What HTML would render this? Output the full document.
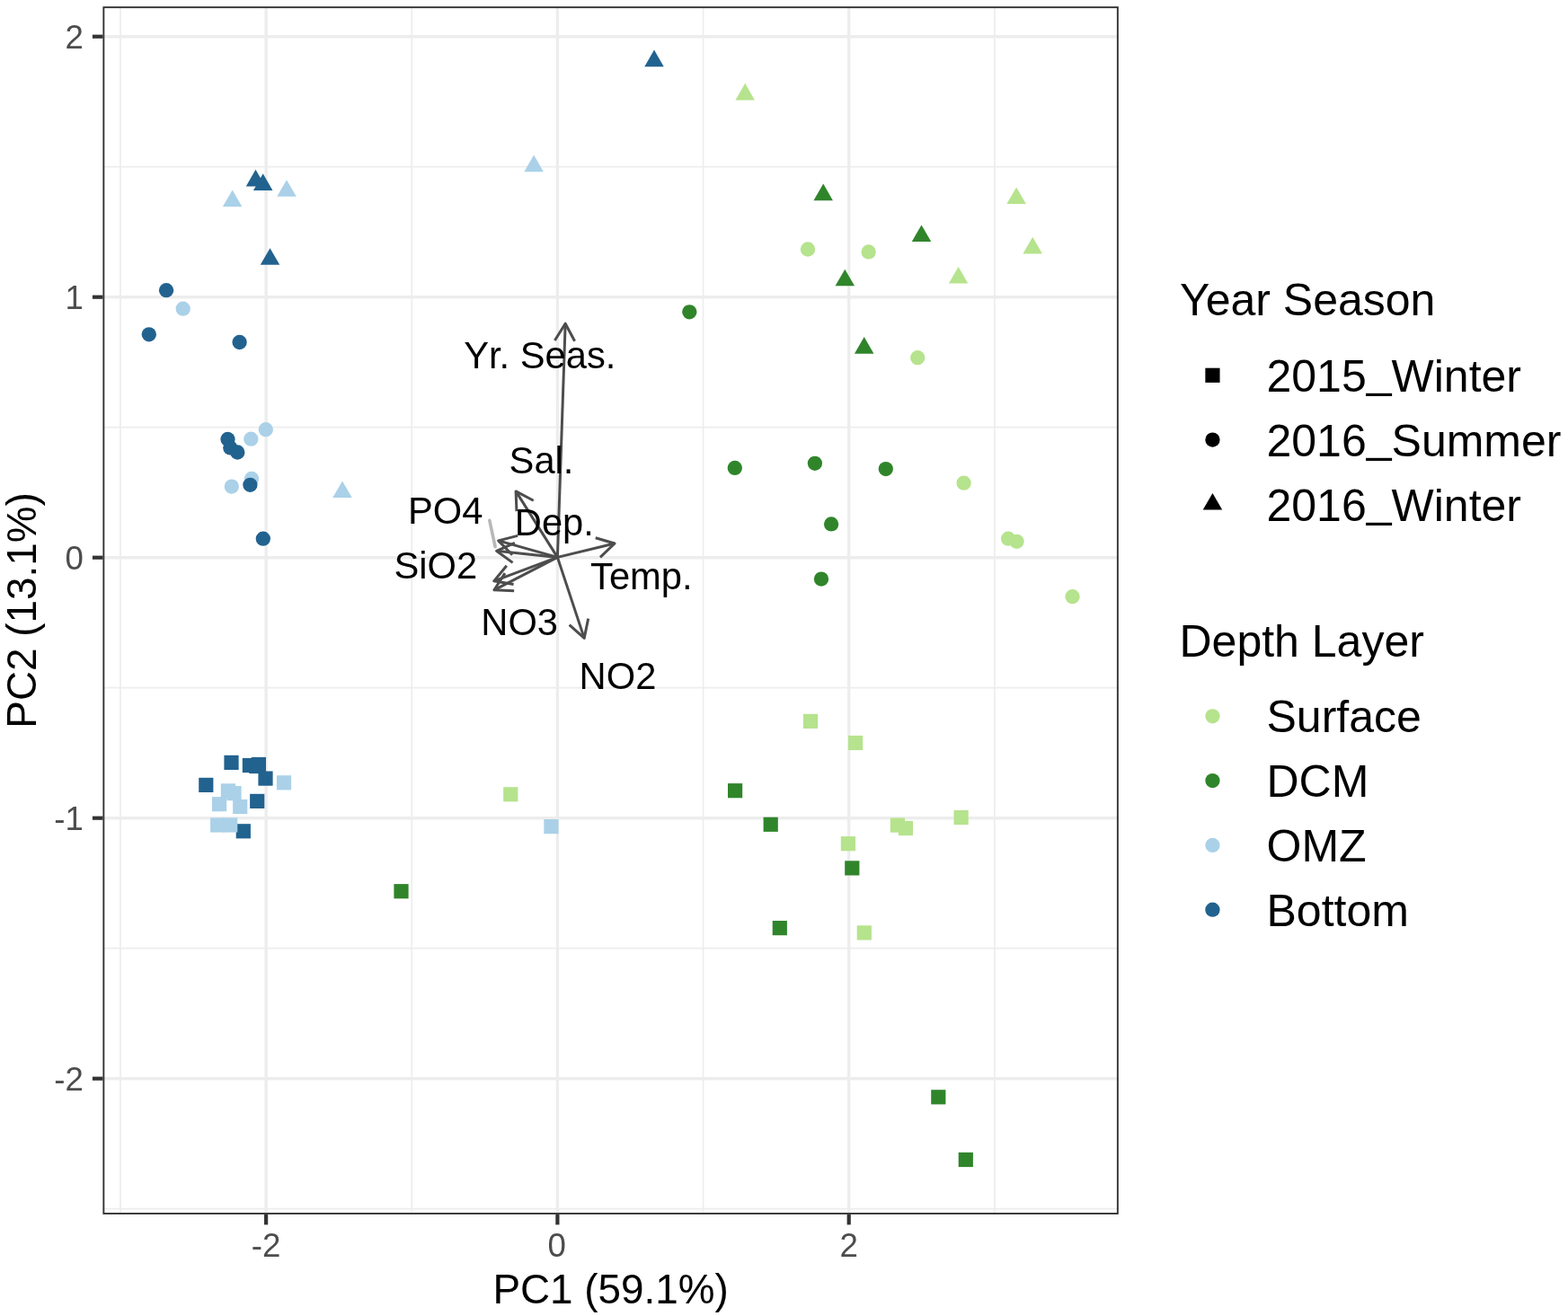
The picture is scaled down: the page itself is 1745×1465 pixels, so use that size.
<!DOCTYPE html>
<html><head><meta charset="utf-8"><title>PCA biplot</title><style>html,body{margin:0;padding:0;background:#fff;overflow:hidden}svg{display:block}</style></head><body>
<svg width="1745" height="1465" viewBox="0 0 1745 1465"><rect x="0" y="0" width="1745" height="1465" fill="#FFFFFF"/>
<g><line x1="133.95" y1="7.2" x2="133.95" y2="1351.9" stroke="#EDEDED" stroke-width="1.7"/><line x1="458.25" y1="7.2" x2="458.25" y2="1351.9" stroke="#EDEDED" stroke-width="1.7"/><line x1="782.55" y1="7.2" x2="782.55" y2="1351.9" stroke="#EDEDED" stroke-width="1.7"/><line x1="1106.85" y1="7.2" x2="1106.85" y2="1351.9" stroke="#EDEDED" stroke-width="1.7"/><line x1="114.4" y1="185.70" x2="1244.8" y2="185.70" stroke="#EDEDED" stroke-width="1.7"/><line x1="114.4" y1="475.70" x2="1244.8" y2="475.70" stroke="#EDEDED" stroke-width="1.7"/><line x1="114.4" y1="765.70" x2="1244.8" y2="765.70" stroke="#EDEDED" stroke-width="1.7"/><line x1="114.4" y1="1055.70" x2="1244.8" y2="1055.70" stroke="#EDEDED" stroke-width="1.7"/><line x1="114.4" y1="1345.70" x2="1244.8" y2="1345.70" stroke="#EDEDED" stroke-width="1.7"/><line x1="296.10" y1="7.2" x2="296.10" y2="1351.9" stroke="#EDEDED" stroke-width="3.4"/><line x1="620.40" y1="7.2" x2="620.40" y2="1351.9" stroke="#EDEDED" stroke-width="3.4"/><line x1="944.70" y1="7.2" x2="944.70" y2="1351.9" stroke="#EDEDED" stroke-width="3.4"/><line x1="114.4" y1="40.70" x2="1244.8" y2="40.70" stroke="#EDEDED" stroke-width="3.4"/><line x1="114.4" y1="330.70" x2="1244.8" y2="330.70" stroke="#EDEDED" stroke-width="3.4"/><line x1="114.4" y1="620.70" x2="1244.8" y2="620.70" stroke="#EDEDED" stroke-width="3.4"/><line x1="114.4" y1="910.70" x2="1244.8" y2="910.70" stroke="#EDEDED" stroke-width="3.4"/><line x1="114.4" y1="1200.70" x2="1244.8" y2="1200.70" stroke="#EDEDED" stroke-width="3.4"/></g>
<g><polygon points="284.50,188.80 295.24,207.40 273.76,207.40" fill="#22628F"/><polygon points="292.70,193.30 303.44,211.90 281.96,211.90" fill="#22628F"/><polygon points="258.60,211.50 269.34,230.10 247.86,230.10" fill="#AAD1E8"/><polygon points="319.00,200.20 329.74,218.80 308.26,218.80" fill="#AAD1E8"/><polygon points="300.50,276.20 311.24,294.80 289.76,294.80" fill="#22628F"/><circle cx="185.05" cy="323.20" r="8.15" fill="#22628F"/><circle cx="203.70" cy="343.70" r="8.15" fill="#AAD1E8"/><circle cx="165.80" cy="372.30" r="8.15" fill="#22628F"/><circle cx="266.60" cy="381.00" r="8.15" fill="#22628F"/><circle cx="295.80" cy="478.20" r="8.15" fill="#AAD1E8"/><circle cx="279.30" cy="488.70" r="8.15" fill="#AAD1E8"/><circle cx="253.50" cy="489.00" r="8.15" fill="#22628F"/><circle cx="256.30" cy="498.40" r="8.15" fill="#22628F"/><circle cx="264.30" cy="503.50" r="8.15" fill="#22628F"/><circle cx="280.00" cy="533.00" r="8.15" fill="#AAD1E8"/><circle cx="278.40" cy="539.80" r="8.15" fill="#22628F"/><circle cx="257.80" cy="541.60" r="8.15" fill="#AAD1E8"/><polygon points="381.00,535.40 391.74,554.00 370.26,554.00" fill="#AAD1E8"/><circle cx="292.80" cy="599.70" r="8.15" fill="#22628F"/><polygon points="728.00,55.60 738.74,74.20 717.26,74.20" fill="#22628F"/><polygon points="829.20,92.80 839.94,111.40 818.46,111.40" fill="#B6E38D"/><polygon points="594.10,172.60 604.84,191.20 583.36,191.20" fill="#AAD1E8"/><polygon points="916.20,204.60 926.94,223.20 905.46,223.20" fill="#30852B"/><polygon points="1131.10,208.50 1141.84,227.10 1120.36,227.10" fill="#B6E38D"/><polygon points="1025.50,250.40 1036.24,269.00 1014.76,269.00" fill="#30852B"/><polygon points="1149.20,263.80 1159.94,282.40 1138.46,282.40" fill="#B6E38D"/><circle cx="899.00" cy="277.50" r="8.15" fill="#B6E38D"/><circle cx="966.60" cy="280.40" r="8.15" fill="#B6E38D"/><polygon points="940.30,299.70 951.04,318.30 929.56,318.30" fill="#30852B"/><polygon points="1066.60,297.00 1077.34,315.60 1055.86,315.60" fill="#B6E38D"/><polygon points="961.70,375.10 972.44,393.70 950.96,393.70" fill="#30852B"/><circle cx="1021.20" cy="398.20" r="8.15" fill="#B6E38D"/><circle cx="767.30" cy="347.30" r="8.15" fill="#30852B"/><circle cx="817.80" cy="520.90" r="8.15" fill="#30852B"/><circle cx="906.90" cy="515.80" r="8.15" fill="#30852B"/><circle cx="985.80" cy="522.10" r="8.15" fill="#30852B"/><circle cx="925.10" cy="583.40" r="8.15" fill="#30852B"/><circle cx="914.00" cy="644.60" r="8.15" fill="#30852B"/><circle cx="1072.60" cy="537.70" r="8.15" fill="#B6E38D"/><circle cx="1122.10" cy="599.70" r="8.15" fill="#B6E38D"/><circle cx="1131.50" cy="602.80" r="8.15" fill="#B6E38D"/><circle cx="1193.50" cy="664.20" r="8.15" fill="#B6E38D"/><rect x="893.90" y="794.80" width="16.20" height="16.20" fill="#B6E38D"/><rect x="944.00" y="818.90" width="16.20" height="16.20" fill="#B6E38D"/><rect x="810.00" y="872.10" width="16.20" height="16.20" fill="#30852B"/><rect x="849.60" y="909.70" width="16.20" height="16.20" fill="#30852B"/><rect x="990.80" y="910.50" width="16.20" height="16.20" fill="#B6E38D"/><rect x="999.80" y="913.90" width="16.20" height="16.20" fill="#B6E38D"/><rect x="1061.50" y="901.90" width="16.20" height="16.20" fill="#B6E38D"/><rect x="935.80" y="931.10" width="16.20" height="16.20" fill="#B6E38D"/><rect x="940.20" y="958.30" width="16.20" height="16.20" fill="#30852B"/><rect x="859.70" y="1025.00" width="16.20" height="16.20" fill="#30852B"/><rect x="953.70" y="1030.30" width="16.20" height="16.20" fill="#B6E38D"/><rect x="1036.20" y="1213.20" width="16.20" height="16.20" fill="#30852B"/><rect x="1066.70" y="1282.90" width="16.20" height="16.20" fill="#30852B"/><rect x="262.70" y="917.20" width="16.20" height="16.20" fill="#22628F"/><rect x="249.40" y="840.80" width="16.20" height="16.20" fill="#22628F"/><rect x="269.80" y="843.90" width="16.20" height="16.20" fill="#22628F"/><rect x="277.20" y="844.90" width="16.20" height="16.20" fill="#22628F"/><rect x="279.80" y="842.90" width="16.20" height="16.20" fill="#22628F"/><rect x="287.40" y="858.50" width="16.20" height="16.20" fill="#22628F"/><rect x="307.90" y="863.20" width="16.20" height="16.20" fill="#AAD1E8"/><rect x="221.20" y="865.80" width="16.20" height="16.20" fill="#22628F"/><rect x="245.80" y="872.30" width="16.20" height="16.20" fill="#AAD1E8"/><rect x="252.40" y="875.00" width="16.20" height="16.20" fill="#AAD1E8"/><rect x="236.00" y="887.10" width="16.20" height="16.20" fill="#AAD1E8"/><rect x="259.10" y="889.90" width="16.20" height="16.20" fill="#AAD1E8"/><rect x="278.10" y="883.80" width="16.20" height="16.20" fill="#22628F"/><rect x="234.10" y="910.40" width="16.20" height="16.20" fill="#AAD1E8"/><rect x="248.10" y="910.40" width="16.20" height="16.20" fill="#AAD1E8"/><rect x="560.20" y="876.20" width="16.20" height="16.20" fill="#B6E38D"/><rect x="605.30" y="912.00" width="16.20" height="16.20" fill="#AAD1E8"/><rect x="438.40" y="984.10" width="16.20" height="16.20" fill="#30852B"/></g>
<line x1="544.8" y1="579.3" x2="551.1" y2="608.7" stroke="#B8B8B8" stroke-width="3.6" stroke-linecap="round"/>
<g stroke="#4D4D4D" stroke-width="3.0" stroke-linecap="butt" stroke-linejoin="round" fill="none"><line x1="620.40" y1="620.40" x2="629.16" y2="360.20"/>
<polyline points="617.42,379.04 629.16,360.20 639.60,379.79" fill="none"/><line x1="620.40" y1="620.40" x2="574.09" y2="546.90"/>
<polyline points="574.95,569.08 574.09,546.90 593.73,557.25" fill="none"/><line x1="620.40" y1="620.40" x2="554.65" y2="601.85"/>
<polyline points="570.14,617.76 554.65,601.85 576.17,596.39" fill="none"/><line x1="620.40" y1="620.40" x2="552.59" y2="613.33"/>
<polyline points="570.56,626.37 552.59,613.33 572.87,604.29" fill="none"/><line x1="620.40" y1="620.40" x2="549.72" y2="646.84"/>
<polyline points="571.61,650.50 549.72,646.84 563.83,629.71" fill="none"/><line x1="620.40" y1="620.40" x2="549.95" y2="656.80"/>
<polyline points="572.13,657.84 549.95,656.80 561.94,638.12" fill="none"/><line x1="620.40" y1="620.40" x2="684.04" y2="605.01"/>
<polyline points="662.74,598.74 684.04,605.01 667.96,620.31" fill="none"/><line x1="620.40" y1="620.40" x2="650.19" y2="710.37"/>
<polyline points="654.68,688.63 650.19,710.37 633.61,695.60" fill="none"/></g>
<g font-family="Liberation Sans, Arial, Helvetica, sans-serif" font-size="41.7" fill="#000000"><text x="516.2" y="410.0">Yr. Seas.</text><text x="566.6" y="527.0">Sal.</text><text x="454.0" y="583.4">PO4</text><text x="572.8" y="595.8">Dep.</text><text x="438.4" y="644.0">SiO2</text><text x="657.1" y="656.0">Temp.</text><text x="535.3" y="706.7">NO3</text><text x="644.6" y="766.7">NO2</text></g>
<rect x="115.35000000000001" y="8.15" width="1128.4999999999998" height="1342.8" fill="none" stroke="#333333" stroke-width="1.9"/>
<g stroke="#333333" stroke-width="4.2"><line x1="102.9" y1="40.70" x2="114.4" y2="40.70"/><line x1="102.9" y1="330.70" x2="114.4" y2="330.70"/><line x1="102.9" y1="620.70" x2="114.4" y2="620.70"/><line x1="102.9" y1="910.70" x2="114.4" y2="910.70"/><line x1="102.9" y1="1200.70" x2="114.4" y2="1200.70"/><line x1="296.10" y1="1351.9" x2="296.10" y2="1363.4"/><line x1="620.40" y1="1351.9" x2="620.40" y2="1363.4"/><line x1="944.70" y1="1351.9" x2="944.70" y2="1363.4"/></g>
<g font-family="Liberation Sans, Arial, Helvetica, sans-serif" font-size="36.67" fill="#4D4D4D"><text x="92.8" y="53.90" text-anchor="end">2</text><text x="92.8" y="343.90" text-anchor="end">1</text><text x="92.8" y="633.90" text-anchor="end">0</text><text x="92.8" y="923.90" text-anchor="end">-1</text><text x="92.8" y="1213.90" text-anchor="end">-2</text><text x="296.10" y="1398.7" text-anchor="middle">-2</text><text x="619.60" y="1398.7" text-anchor="middle">0</text><text x="944.70" y="1398.7" text-anchor="middle">2</text></g>
<g font-family="Liberation Sans, Arial, Helvetica, sans-serif" font-size="45.83" fill="#000000"><text x="679.6" y="1451.1" text-anchor="middle">PC1 (59.1%)</text><text transform="translate(39.5 679.5) rotate(-90)" x="0" y="0" text-anchor="middle">PC2 (13.1%)</text></g>
<g font-family="Liberation Sans, Arial, Helvetica, sans-serif" font-size="50" fill="#000000"><text x="1312.9" y="350.6">Year Season</text><text x="1409.5" y="436.4">2015<tspan dy="-5.3">_</tspan><tspan dy="5.3">Winter</tspan></text><text x="1409.5" y="508.2">2016<tspan dy="-5.3">_</tspan><tspan dy="5.3">Summer</tspan></text><text x="1409.5" y="580.0">2016<tspan dy="-5.3">_</tspan><tspan dy="5.3">Winter</tspan></text><text x="1312.5" y="730.9">Depth Layer</text><text x="1409.5" y="815.2">Surface</text><text x="1409.5" y="887.0">DCM</text><text x="1409.5" y="958.8">OMZ</text><text x="1409.5" y="1030.6">Bottom</text></g>
<g><rect x="1341.35" y="409.70" width="16.20" height="16.20" fill="#000000"/><circle cx="1349.45" cy="489.60" r="8.15" fill="#000000"/><polygon points="1349.45,549.00 1360.19,567.60 1338.71,567.60" fill="#000000"/><circle cx="1349.45" cy="797.30" r="8.15" fill="#B6E38D"/><circle cx="1349.45" cy="869.10" r="8.15" fill="#30852B"/><circle cx="1349.45" cy="940.90" r="8.15" fill="#AAD1E8"/><circle cx="1349.45" cy="1012.70" r="8.15" fill="#22628F"/></g></svg>
</body></html>
